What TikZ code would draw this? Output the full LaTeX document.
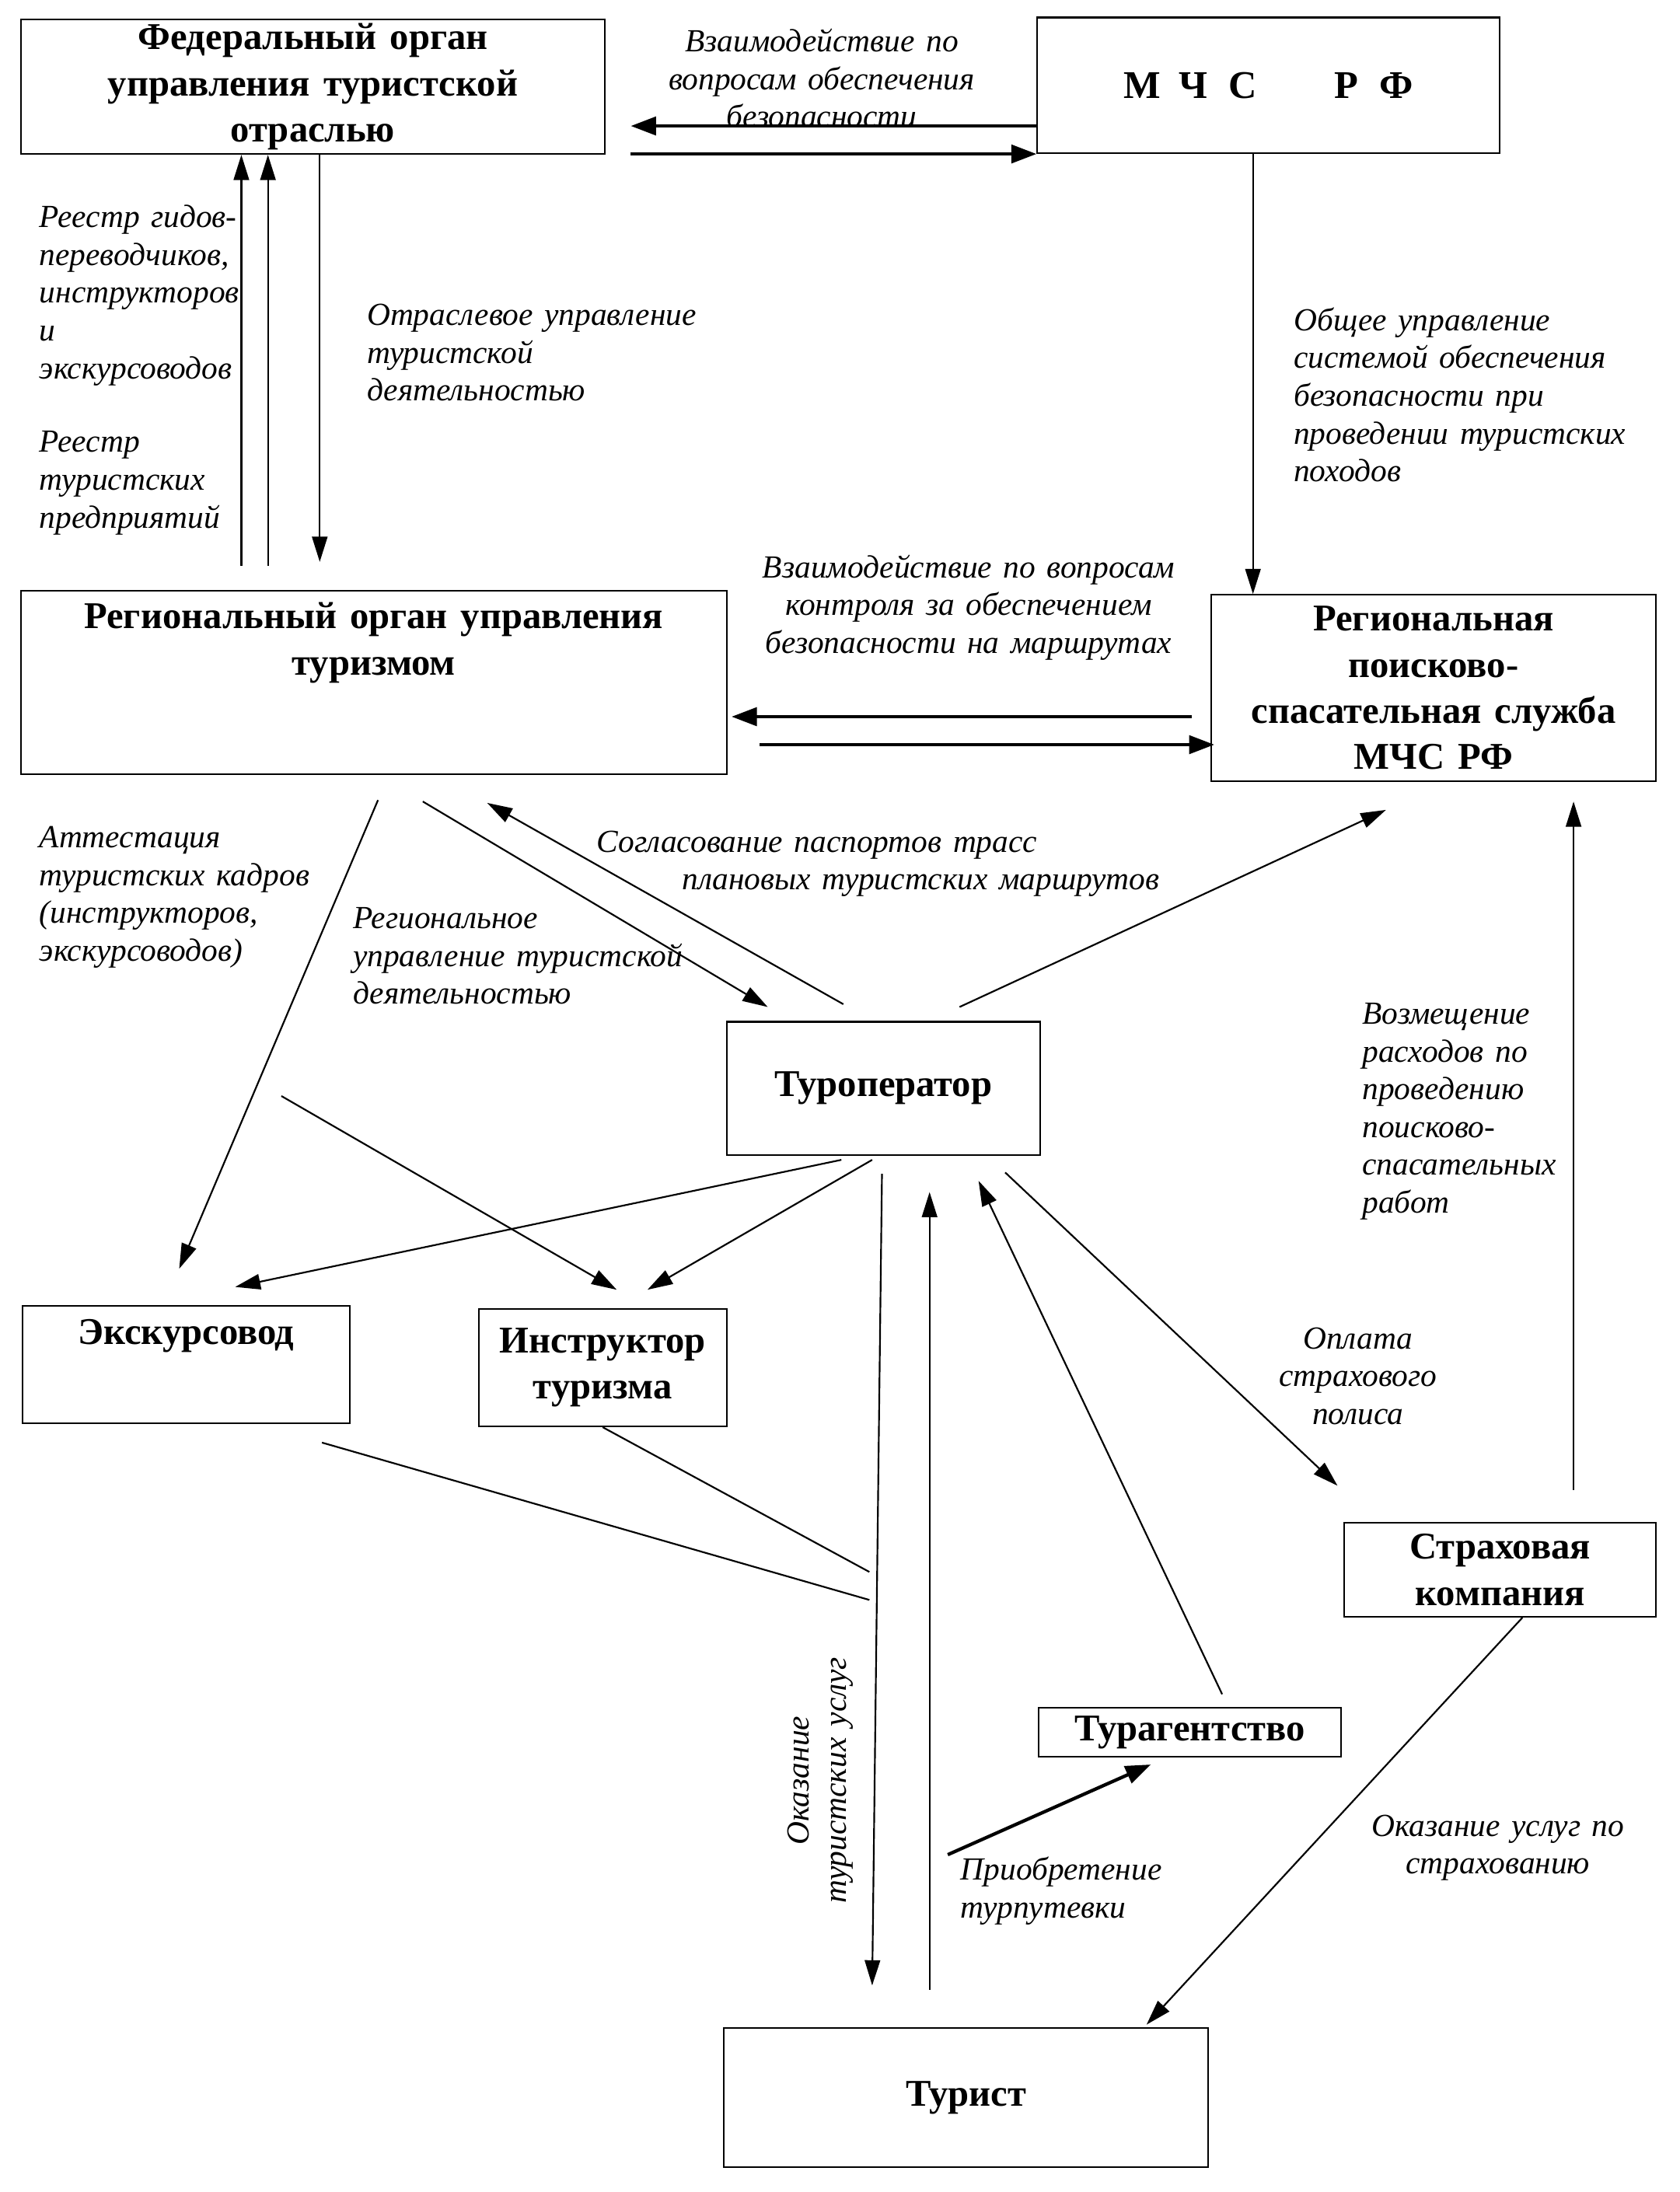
\documentclass[tikz,border=0pt]{standalone}
\usepackage{fontspec}
\setmainfont{Liberation Serif}
\newfontfamily\ttlfont{Liberation Serif}[WordSpace=2.2]
\newfontfamily\lblfont{Liberation Serif}[WordSpace=1.4]
\usetikzlibrary{arrows.meta}

\begin{document}
\begin{tikzpicture}[x=1pt,y=-1pt,
    box/.style={draw,line width=1.2pt,inner sep=0pt},
    ttl/.style={font=\fontsize{27}{33}\ttlfont\bfseries,align=center,inner sep=0pt},
    lbl/.style={font=\fontsize{23}{27}\lblfont\itshape,inner sep=0pt},
    arr/.style={line width=1.2pt,-{Triangle[length=18pt,width=11pt]}},
    thickarr/.style={line width=2.4pt,-{Triangle[length=18pt,width=13pt]}},
    link/.style={line width=1.2pt}]
    \useasboundingbox (0,0) rectangle (1200,1566);
    % boxes
    \node[box,ttl,minimum width=417pt,minimum height=96pt] (fed) at (223.5,62) {Федеральный орган\\управления туристской\\отраслью};
    \node[box,ttl,font=\fontsize{28}{33}\ttlfont\bfseries,minimum width=330pt,minimum height=97pt] (mchs) at (906,61) {М\hspace{13pt}Ч\hspace{15pt}С\hspace{55pt}Р\hspace{15pt}Ф};
    \node[box,minimum width=504pt,minimum height=131pt] (reg) at (267,487.5) {};
    \node[ttl,anchor=north] (regtxt) at ([yshift=-9pt]reg.north) {Региональный орган управления\\туризмом};
    \node[box,ttl,minimum width=318pt,minimum height=133pt] (pss) at (1024,491.5) {Региональная\\поисково-\\спасательная служба\\МЧС РФ};
    \node[box,ttl,minimum width=224pt,minimum height=95pt] (tour) at (631,777.5) {Туроператор};
    \node[box,minimum width=234pt,minimum height=84pt] (exc) at (133,975) {};
    \node[ttl,anchor=north] (exctxt) at ([yshift=-10pt]exc.north) {Экскурсовод};
    \node[box,ttl,minimum width=177pt,minimum height=84pt] (instr) at (430.5,977) {Инструктор\\туризма};
    \node[box,ttl,minimum width=223pt,minimum height=67pt] (ins) at (1071.5,1121.5) {Страховая\\компания};
    \node[box,ttl,minimum width=216pt,minimum height=35pt] (agent) at (850,1237.5) {Турагентство};
    \node[box,ttl,minimum width=346pt,minimum height=99pt] (tourist) at (690,1498.5) {Турист};
    % free ends
    \coordinate (mgmt) at (201,783);
    \coordinate (jexc) at (621,1143);
    \coordinate (jins) at (621,1123);
    \coordinate (buy) at (677,1325);
    % connectors
    \draw[thickarr] ([yshift=-29pt]mchs.west) -- ([xshift=18pt,yshift=-28pt]fed.east);
    \draw[thickarr] ([xshift=18pt,yshift=-48pt]fed.east) -- ([yshift=-49pt]mchs.west);
    \draw[arr] ([xshift=158pt,yshift=17pt]reg.north west) -- ([xshift=158pt]fed.south west);
    \draw[arr] ([xshift=177pt,yshift=17pt]reg.north west) -- ([xshift=177pt]fed.south west);
    \draw[arr] ([xshift=214pt]fed.south west) -- ([xshift=214pt,yshift=20pt]reg.north west);
    \draw[arr] ([xshift=-11pt]mchs.south) -- ([xshift=-129pt]pss.north);
    \draw[thickarr] ([xshift=-13pt,yshift=-20.5pt]pss.west) -- ([xshift=3pt,yshift=-24.5pt]reg.east);
    \draw[thickarr] ([xshift=23pt,yshift=-44.5pt]reg.east) -- ([xshift=3pt,yshift=-40.5pt]pss.west);
    \draw[arr] ([xshift=3pt,yshift=-18pt]reg.south) -- ([xshift=-5pt,yshift=26pt]exc.north);
    \draw[arr] ([xshift=35pt,yshift=-19pt]reg.south) -- ([xshift=30pt,yshift=10pt]tour.north west);
    \draw[arr] ([xshift=84pt,yshift=12pt]tour.north west) -- ([xshift=81pt,yshift=-20pt]reg.south);
    \draw[arr] ([xshift=167pt,yshift=10pt]tour.north west) -- ([xshift=-34pt,yshift=-20pt]pss.south);
    \draw[arr] ([xshift=52.5pt,yshift=23pt]ins.north) -- ([xshift=100pt,yshift=-14pt]pss.south);
    \draw[arr] ([xshift=-30pt,yshift=-3pt]tour.south) -- ([xshift=35pt,yshift=13pt]exc.north);
    \draw[arr] ([xshift=-8pt,yshift=-3pt]tour.south) -- ([xshift=32pt,yshift=13pt]instr.north);
    \draw[arr] (mgmt) -- ([xshift=10pt,yshift=13pt]instr.north);
    \draw[link] ([xshift=97pt,yshift=-13pt]exc.south) -- (jexc);
    \draw[link] (instr.south) -- (jins);
    \draw[arr] ([xshift=-1pt,yshift=-13pt]tour.south) -- ([xshift=-67pt,yshift=30pt]tourist.north);
    \draw[arr] ([xshift=-26pt,yshift=27pt]tourist.north) -- ([xshift=33pt,yshift=-26pt]tour.south);
    \draw[arr] ([xshift=23pt,yshift=9pt]agent.north) -- ([xshift=68pt,yshift=-18pt]tour.south);
    \draw[arr] ([xshift=87pt,yshift=-12pt]tour.south) -- ([xshift=-4pt,yshift=26pt]ins.north west);
    \draw[thickarr] (buy) -- ([xshift=-28pt,yshift=-5pt]agent.south);
    \draw[arr] ([xshift=16pt]ins.south) -- ([xshift=129pt,yshift=2pt]tourist.north);
    % labels
    \node[lbl,align=center] (lsafe) at (587,56) {Взаимодействие по\\вопросам обеспечения\\безопасности};
    \node[lbl,align=left,anchor=west] (lreg1) at (28,211) {Реестр гидов-\\переводчиков,\\инструкторов\\и\\экскурсоводов};
    \node[lbl,align=left,anchor=west] (lreg2) at (28,345) {Реестр\\туристских\\предприятий};
    \node[lbl,align=left,anchor=west] (lbranch) at (262,252) {Отраслевое управление\\туристской\\деятельностью};
    \node[lbl,align=left,anchor=west] (lgen) at (924,282) {Общее управление\\системой обеспечения\\безопасности при\\проведении туристских\\походов};
    \node[lbl,align=center] (lctrl) at (692,434) {Взаимодействие по вопросам\\контроля за обеспечением\\безопасности на маршрутах};
    \node[lbl,align=left,anchor=west] (lcert) at (28,641) {Аттестация\\туристских кадров\\(инструкторов,\\экскурсоводов)};
    \node[lbl,align=left,anchor=west] (lrm) at (252,683) {Региональное\\управление туристской\\деятельностью};
    \node[lbl,align=left,anchor=west] (lpass) at (426,617) {Согласование паспортов трасс\\\hspace*{61pt}плановых туристских маршрутов};
    \node[lbl,align=left,anchor=west] (lcomp) at (973,794) {Возмещение\\расходов по\\проведению\\поисково-\\спасательных\\работ};
    \node[lbl,align=center] (lpay) at (970,983) {Оплата\\страхового\\полиса};
    \node[lbl,align=left,anchor=west] (lbuy) at (686,1351) {Приобретение\\турпутевки};
    \node[lbl,align=center] (lserv) at (1070,1320) {Оказание услуг по\\страхованию};
    \node[lbl,align=center,rotate=90] (ltour) at (586,1272) {Оказание\\туристских услуг};
\end{tikzpicture}
\end{document}
